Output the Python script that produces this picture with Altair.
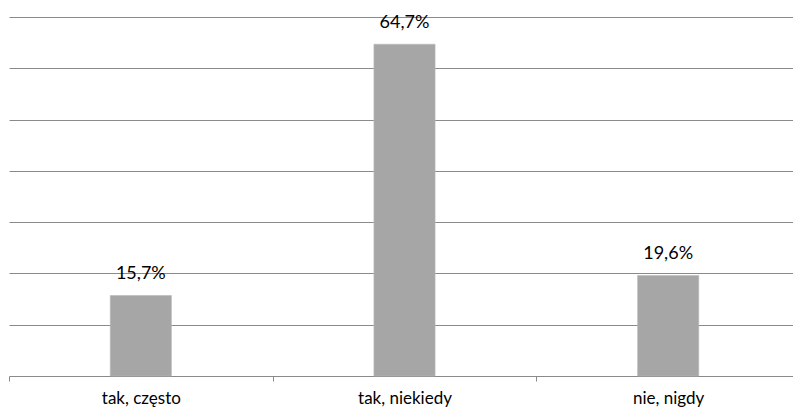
import altair as alt
import pandas as pd

categories = ["tak, często", "tak, niekiedy", "nie, nigdy"]
values = [15.7, 64.7, 19.6]
labels = ["15,7%", "64,7%", "19,6%"]

df = pd.DataFrame({"cat": categories, "val": values, "lab": labels})

FONT = "Lato"

x_enc = alt.X(
    "cat:N",
    sort=categories,
    title=None,
    scale=alt.Scale(range=[0, 791], paddingInner=0, paddingOuter=0),
    axis=alt.Axis(
        labelAngle=0,
        labelFont=FONT,
        labelFontSize=17,
        labelColor="#000000",
        labelPadding=9,
        tickBand="extent",
        tickSize=5,
        tickColor="#8a8a8a",
        domainColor="#8a8a8a",
        grid=False,
    ),
)

y_enc = alt.Y(
    "val:Q",
    title=None,
    scale=alt.Scale(domain=[0, 70], nice=False),
    axis=alt.Axis(
        values=[10, 20, 30, 40, 50, 60, 70],
        labels=False,
        ticks=False,
        domain=False,
        grid=True,
        gridColor="#8a8a8a",
        gridWidth=1,
    ),
)

bars = alt.Chart(df).mark_bar(
    color="#a6a6a6",
    width=alt.RelativeBandSize(0.232),
    stroke="#b8b8b8",
    strokeWidth=0.6,
).encode(x=x_enc, y=y_enc)

text = alt.Chart(df).mark_text(
    font=FONT,
    fontSize=18,
    baseline="alphabetic",
    dy=-16,
    color="#000000",
).encode(x=alt.X("cat:N", sort=categories), y=alt.Y("val:Q"), text="lab:N")

chart = (
    alt.layer(bars, text)
    .properties(
        width=784,
        height=359,
        padding={"left": 9, "top": 17, "right": 0, "bottom": 34},
        autosize=alt.AutoSizeParams(type="none"),
        background="#ffffff",
    )
    .configure_view(stroke=None)
)

chart.save("out.html", embed_options={"renderer": "svg", "actions": False})
